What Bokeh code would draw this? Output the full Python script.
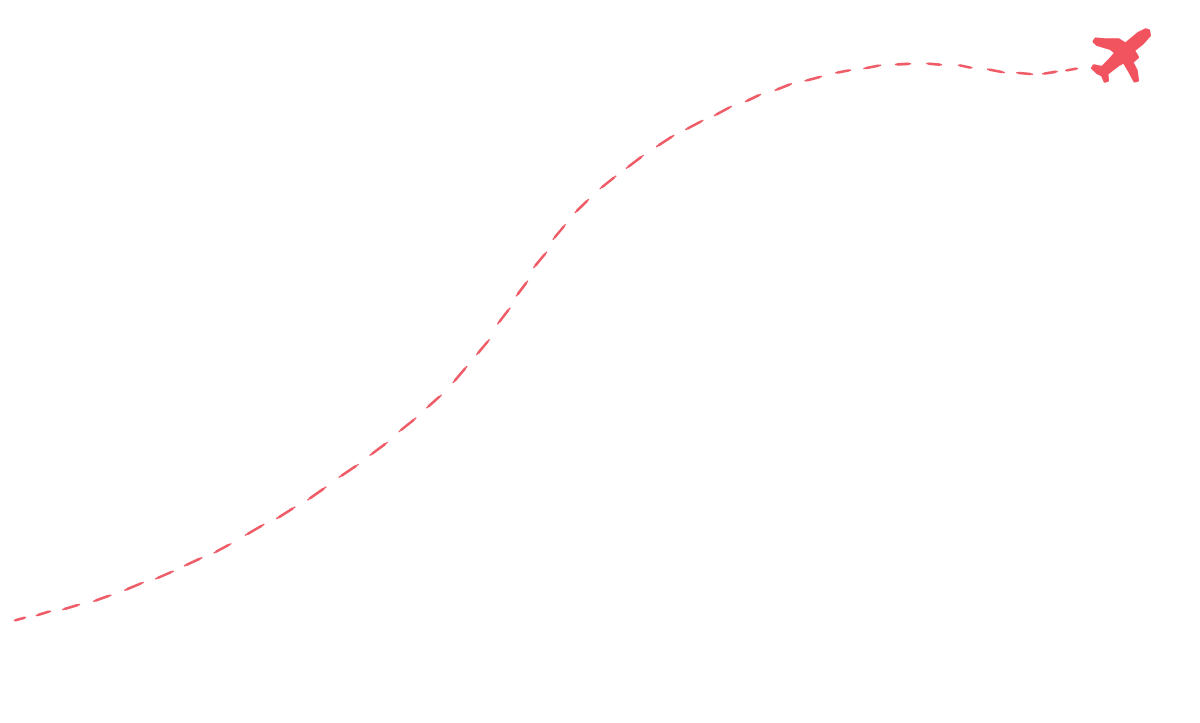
from bokeh.plotting import figure
from bokeh.embed import file_html
from bokeh.resources import INLINE

# Dashes of the flight path (pixel-like units, y downwards)
dash_x0 = [14, 36, 62.3, 93.3, 124.3, 155.3, 184, 213.7, 245, 276.3, 307.3, 338.7, 369.7, 398.7, 426.3,
           452.7, 476.3, 497.3, 516, 533.3, 552.7, 574.7, 599.7, 626, 656.2, 685.3, 714, 745, 774.7,
           804.7, 835.3, 863.5, 895, 926.3, 958, 987, 1016.3, 1042.3, 1065.3]
dash_y0 = [620, 615, 609, 600.7, 589.7, 578.3, 565.3, 552.3, 534.7, 518, 499.3, 476.7, 454.7, 431, 407.3,
           382, 354, 323.3, 295.3, 267, 238.7, 212, 188, 167.7, 146, 129, 115, 101, 89.7,
           80.3, 72.3, 68, 64, 63, 64.7, 68.7, 72.3, 73.3, 70]
dash_x1 = [25, 50, 79, 110.3, 142.7, 172.7, 201.3, 230.3, 263.3, 294.3, 325.3, 357.7, 386.7, 415.3, 440.7,
           466.3, 488.7, 509.3, 527, 546, 564.7, 588, 615.3, 642.7, 673.2, 702.3, 730.7, 760, 791,
           821, 850, 880, 910, 941, 971.3, 1003.7, 1032, 1056.7, 1077]
dash_y1 = [617, 610.7, 604, 594.7, 582, 570.7, 557.3, 543.3, 524, 506.7, 486.7, 464, 442, 417.7, 394.7,
           366, 339.3, 307.7, 280.7, 251.7, 224.3, 199, 175.7, 155, 135, 120, 106, 94, 83.3,
           76, 69.7, 64.8, 63.3, 64.3, 67.3, 72, 73.7, 71, 68]

# Outline of the aeroplane
plane_x = [1149.3, 1148.3, 1145, 1138.3, 1125, 1118.3, 1105, 1095, 1093.3, 1096.7, 1110, 1115, 1108.3, 1101.7,
           1093.3, 1091.7, 1096.7, 1101.7, 1104.3, 1107.3, 1106.7, 1118.3, 1123.3, 1128.3, 1134, 1137.3,
           1136, 1131.7, 1137.3, 1135, 1133.3, 1141.7]
plane_y = [35, 30, 29, 32.3, 43.3, 39, 39, 38.3, 41, 44.3, 48.3, 52.3, 60, 66.7,
           65, 67.7, 72.3, 75, 81, 80, 73.3, 64.3, 61.7, 70, 80.7, 80,
           70, 61.7, 56.7, 52.7, 50, 43.3]

DASH_COLOR = "#ee5c68"
PLANE_COLOR = "#f1535f"

p = figure(width=1184, height=700, x_range=(0, 1184), y_range=(700, 0),
           output_backend="svg", toolbar_location=None, min_border=0)
p.xaxis.visible = False
p.yaxis.visible = False
p.xgrid.visible = False
p.ygrid.visible = False
p.outline_line_color = None
p.background_fill_color = "white"
p.border_fill_color = "white"

# Each dash tapers at its ends: a thin full-length stroke and a thicker middle part
def part(a, b, t):
    return [u + (v - u) * t for u, v in zip(a, b)]

p.segment(dash_x0, dash_y0, dash_x1, dash_y1, line_color=DASH_COLOR, line_width=1.5, line_cap="round")
p.segment(part(dash_x0, dash_x1, 0.15), part(dash_y0, dash_y1, 0.15),
          part(dash_x0, dash_x1, 0.85), part(dash_y0, dash_y1, 0.85),
          line_color=DASH_COLOR, line_width=2.6, line_cap="round")
p.patch(plane_x, plane_y, fill_color=PLANE_COLOR, line_color=PLANE_COLOR, line_width=2.5, line_join="round")

open("out.html", "w").write(file_html(p, INLINE))
